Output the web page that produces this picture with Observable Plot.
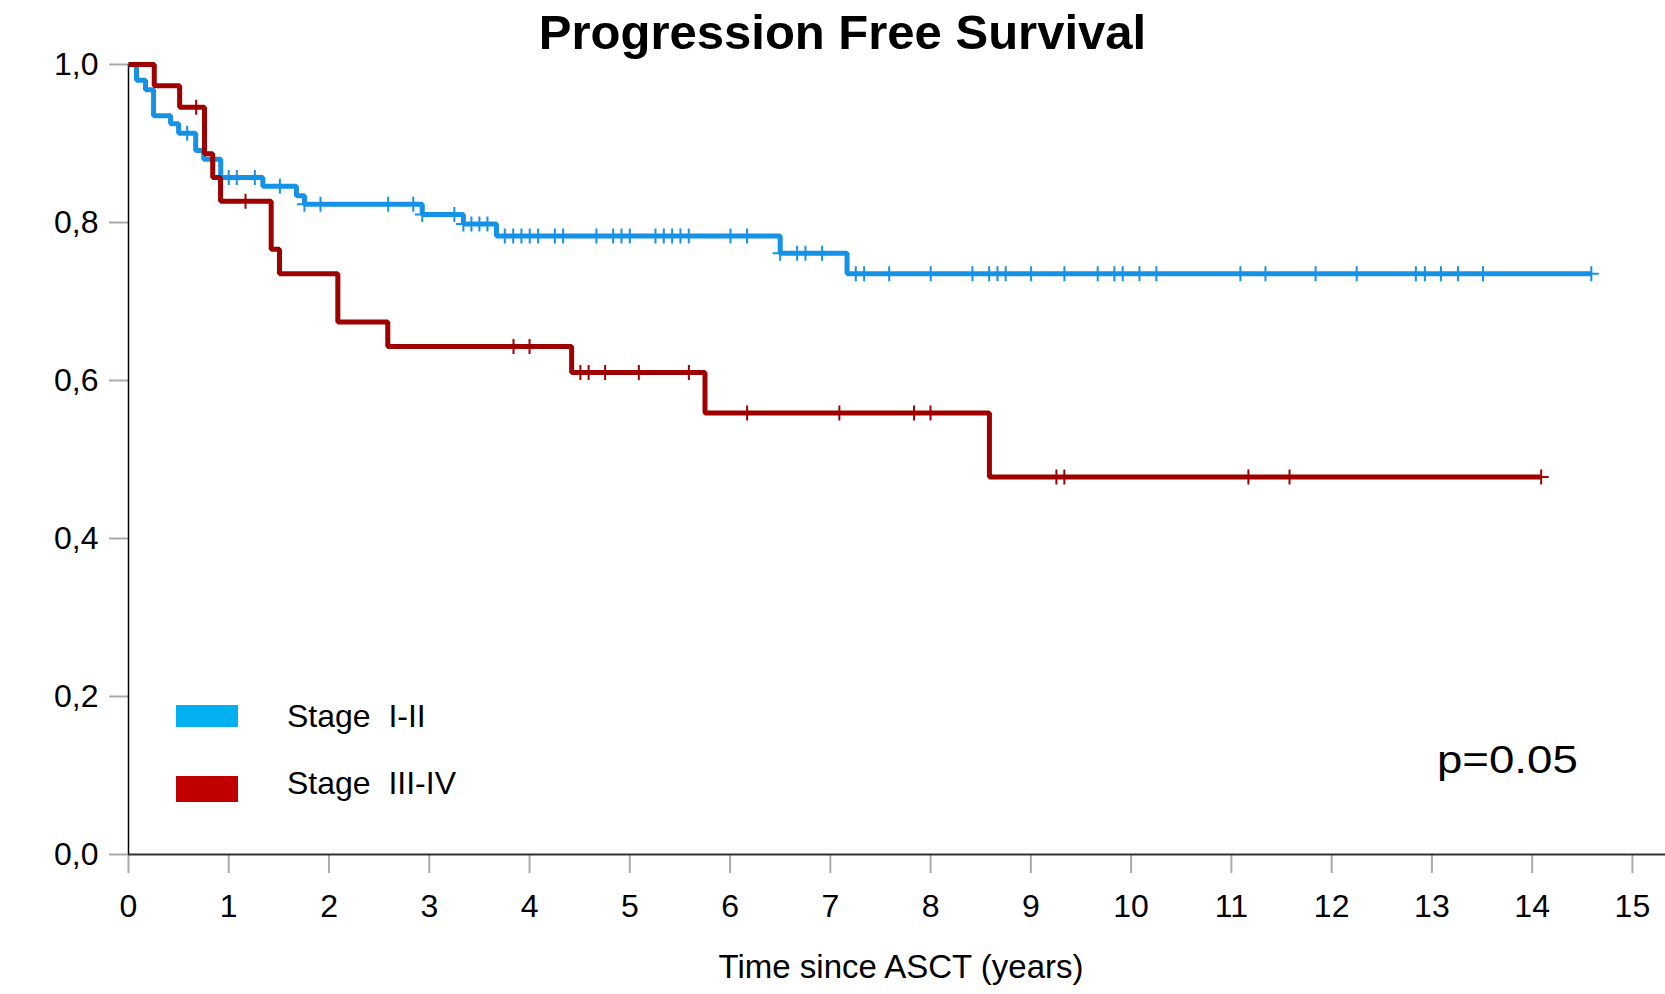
<!DOCTYPE html>
<html>
<head>
<meta charset="utf-8">
<script src="https://cdn.jsdelivr.net/npm/d3@7"></script>
<script src="https://cdn.jsdelivr.net/npm/@observablehq/plot@0.6"></script>
<style>
  html, body { margin: 0; padding: 0; background: white; }
  body { font-family: "Liberation Sans", Arial, Helvetica, sans-serif; color: black; }
  #wrap { position: relative; width: 1665px; height: 994px; overflow: hidden; }
  #header { position: relative; height: 50px; }
  #title { position: absolute; left: 20px; width: 1645px; top: 8px; text-align: center;
           font-size: 49px; font-weight: bold; line-height: 1; }
  .sw { position: absolute; left: 176px; width: 62px; }
  .lg { position: absolute; left: 287px; font-size: 32px; line-height: 1; white-space: pre; }
  #pval { position: absolute; left: 1437px; top: 741px; font-size: 38px; line-height: 1;
          transform: scaleX(1.2); transform-origin: left top; }
</style>
</head>
<body>
<div id="wrap">
  <div id="header"><div id="title">Progression Free Survival</div></div>
  <div id="chart"></div>
  <div class="sw" style="top:705px;height:22px;background:#00B0F0"></div>
  <div class="lg" style="top:700px">Stage  I-II</div>
  <div class="sw" style="top:776px;height:26px;background:#C00000"></div>
  <div class="lg" style="top:767px">Stage  III-IV</div>
  <div id="pval">p=0.05</div>
</div>
<script>
// ---- data ----
const seriesNames = ["Stage  I-II", "Stage  III-IV"];
const seriesColors = ["#1592E6", "#9E0000"];

// Stage I-II: event times (years) and survival after each step
const blueTimes = [0, 0.08, 0.17, 0.25, 0.42, 0.50, 0.67, 0.75, 0.92, 1.34, 1.675, 1.755, 2.93, 3.34, 3.67, 6.50, 7.167];
const blueSurv  = [1, 0.980, 0.968, 0.935, 0.925, 0.913, 0.891, 0.880, 0.857, 0.846, 0.834, 0.823, 0.810, 0.798, 0.783, 0.761, 0.735];
const blueCensor = [0.585, 1.00, 1.08, 1.26, 1.51, 1.755, 1.915, 2.59, 2.84, 2.93, 3.25, 3.34, 3.42, 3.50, 3.58,
  3.753, 3.837, 3.919, 4.002, 4.086, 4.252, 4.335, 4.667, 4.834, 4.917, 5.000, 5.256, 5.339, 5.422, 5.505, 5.588,
  6.004, 6.170, 6.50, 6.669, 6.752, 6.918, 7.254, 7.337, 7.587, 8.001, 8.417, 8.584, 8.667, 8.749, 9.003, 9.335,
  9.667, 9.833, 9.916, 10.083, 10.252, 11.09, 11.34, 11.84, 12.25, 12.84, 12.93, 13.09, 13.26, 13.51, 14.59];

// Stage III-IV
const redTimes = [0, 0.257, 0.51, 0.758, 0.84, 0.918, 1.423, 1.506, 2.088, 2.586, 4.42, 5.75, 8.587];
const redSurv  = [1, 0.973, 0.946, 0.887, 0.857, 0.827, 0.766, 0.735, 0.674, 0.643, 0.610, 0.559, 0.478];
const redCensor = [0.675, 1.167, 3.84, 4.00, 4.507, 4.589, 4.754, 5.09, 5.589, 6.17, 7.09, 7.835, 7.999,
  9.255, 9.334, 11.17, 11.58, 14.09];

const xTicks = [0,1,2,3,4,5,6,7,8,9,10,11,12,13,14,15];
const yTicks = [0, 0.2, 0.4, 0.6, 0.8, 1.0];
const xLabel = "Time since ASCT (years)";

// ---- build tables ----
function stepLine(times, surv, censor, name) {
  const pts = times.map((t, i) => ({t, s: surv[i], name}));
  const last = Math.max(times[times.length - 1], censor[censor.length - 1]);
  pts.push({t: last, s: surv[surv.length - 1], name});
  return pts;
}
function censorPts(times, surv, censor, name) {
  return censor.map(c => {
    let s = surv[0];
    for (let i = 0; i < times.length; i++) if (times[i] <= c + 1e-9) s = surv[i];
    return {t: c, s, name};
  });
}
const blueLine = stepLine(blueTimes, blueSurv, blueCensor, seriesNames[0]);
const redLine = stepLine(redTimes, redSurv, redCensor, seriesNames[1]);
const blueMarks = censorPts(blueTimes, blueSurv, blueCensor, seriesNames[0]);
const redMarks = censorPts(redTimes, redSurv, redCensor, seriesNames[1]);

const plusSymbol = {
  draw(ctx, size) {
    const r = Math.sqrt(size / Math.PI);
    ctx.moveTo(-r, 0); ctx.lineTo(r, 0);
    ctx.moveTo(0, -r); ctx.lineTo(0, r);
  }
};

const chart = Plot.plot({
  width: 1665,
  height: 944,
  marginLeft: 128,
  marginRight: 0,
  marginTop: 14,
  marginBottom: 140,
  style: {fontFamily: "'Liberation Sans', Arial, Helvetica, sans-serif", fontSize: "32px", color: "black", background: "white", overflow: "visible"},
  x: {domain: [0, 15.33]},
  y: {domain: [0, 1]},
  marks: [
    Plot.axisX({ticks: xTicks, tickSize: 19, tickPadding: 21, stroke: "#aaa", strokeWidth: 2, label: null, fill: "black"}),
    Plot.axisY({ticks: yTicks, tickSize: 19, tickPadding: 11, stroke: "#aaa", strokeWidth: 2, label: null, fill: "black",
                tickFormat: d => d.toFixed(1).replace(".", ",")}),
    Plot.ruleY([0], {stroke: "#333", strokeWidth: 2}),
    Plot.ruleX([0], {stroke: "black", strokeWidth: 1.5}),
    Plot.line(blueLine, {x: "t", y: "s", curve: "step-after", stroke: seriesColors[0], strokeWidth: 5, strokeLinejoin: "miter", strokeLinecap: "butt"}),
    Plot.dot(blueMarks, {x: "t", y: "s", symbol: plusSymbol, r: 7.5, stroke: seriesColors[0], fill: "none", strokeWidth: 2}),
    Plot.line(redLine, {x: "t", y: "s", curve: "step-after", stroke: seriesColors[1], strokeWidth: 5, strokeLinejoin: "miter", strokeLinecap: "butt"}),
    Plot.dot(redMarks, {x: "t", y: "s", symbol: plusSymbol, r: 7.5, stroke: seriesColors[1], fill: "none", strokeWidth: 2}),
    Plot.text([xLabel], {text: d => d, frameAnchor: "bottom", dy: 113, dx: 4, lineAnchor: "middle", fontSize: 33, fill: "black"})
  ]
});
document.getElementById("chart").appendChild(chart);
</script>
</body>
</html>
